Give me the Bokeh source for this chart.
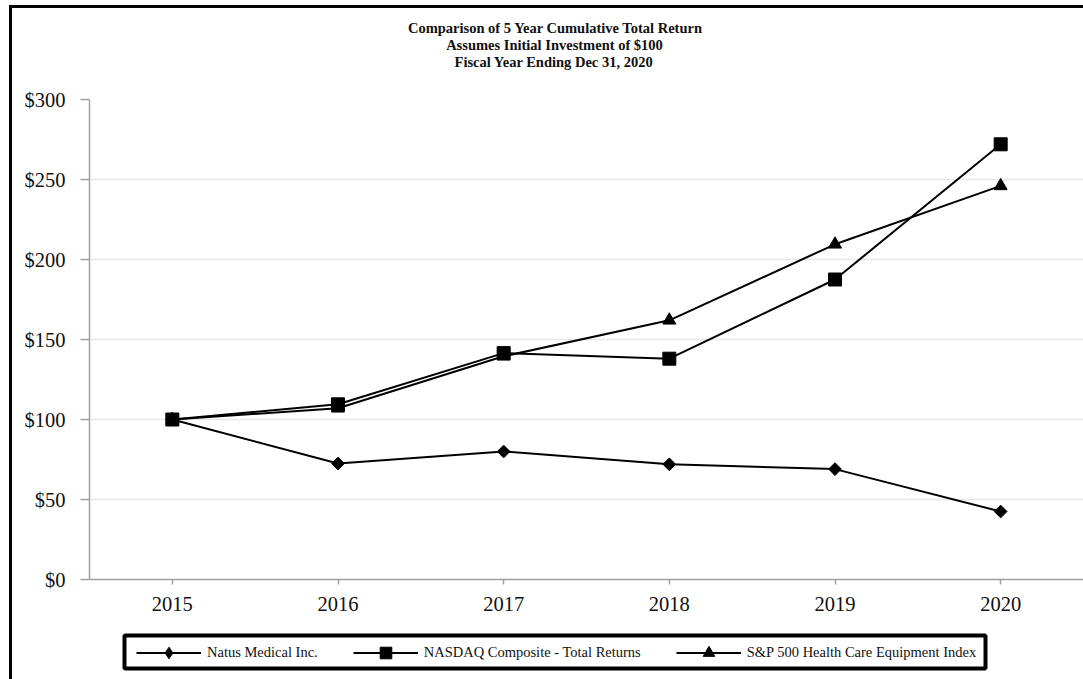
from bokeh.plotting import figure
from bokeh.layouts import column
from bokeh.models import (Range1d, FixedTicker, NumeralTickFormatter, Label, Legend, LegendItem,
                          BoxAnnotation)
from bokeh.embed import file_html
from bokeh.resources import INLINE

years = [2015, 2016, 2017, 2018, 2019, 2020]
natus = [100, 72.5, 80, 72, 69, 42.5]
nasdaq = [100, 109.5, 141.5, 138, 187.5, 272]
sp_hce = [100, 107, 139.5, 162, 209.5, 246]
y_ticks = [0, 50, 100, 150, 200, 250, 300]
title_lines = ["Comparison of 5 Year Cumulative Total Return",
               "Assumes Initial Investment of $100",
               "Fiscal Year Ending Dec 31, 2020"]
series_names = ["Natus Medical Inc.", "NASDAQ Composite - Total Returns",
                "S&P 500 Health Care Equipment Index"]

SERIF = "Liberation Serif"
W = 1071
BL = 77  # common left border so frames align (frame spans page x 89..1083)

# ---- title strip (data units = page pixels) ----
tf = figure(width=W, height=72, output_backend="svg", toolbar_location=None,
            x_range=Range1d(89, 1083), y_range=Range1d(80, 8),
            x_axis_type=None, y_axis_type=None,
            min_border_left=BL, min_border_right=0, min_border_top=0, min_border_bottom=0)
tf.outline_line_color = None
tf.grid.visible = False
for txt, xc, yc in zip(title_lines, [555, 554, 553.5], [27.5, 44.5, 61.5]):
    tf.add_layout(Label(x=xc, y=yc, text=txt, text_font=SERIF, text_font_style="bold",
                        text_font_size="14.5px", text_align="center", text_baseline="middle",
                        text_color="#111111"))

# ---- main chart ----
p = figure(width=W, height=545, output_backend="svg", toolbar_location=None,
           x_range=Range1d(2014.5, 2020.5), y_range=Range1d(0, 300),
           min_border_left=BL, min_border_right=0, min_border_top=19, min_border_bottom=46)
p.outline_line_color = None

p.xaxis.ticker = FixedTicker(ticks=years)
p.yaxis.ticker = FixedTicker(ticks=y_ticks)
p.yaxis.formatter = NumeralTickFormatter(format="$0")
for ax in (p.xaxis[0], p.yaxis[0]):
    ax.axis_line_color = "#a0a0a0"
    ax.axis_line_width = 1.5
    ax.major_tick_line_color = "#a0a0a0"
    ax.major_tick_line_width = 1.5
    ax.minor_tick_line_color = None
    ax.major_tick_in = 0
    ax.major_label_text_font = SERIF
    ax.major_label_text_font_size = "20.5px"
    ax.major_label_text_color = "#111111"
p.yaxis.major_tick_out = 9
p.yaxis.major_label_standoff = 15
p.xaxis.major_tick_out = 5
p.xaxis.major_label_standoff = 12

p.xgrid.grid_line_color = None
p.ygrid.grid_line_color = "#e8e8e8"
p.ygrid.grid_line_width = 1.5

p.line(years, natus, line_color="black", line_width=2)
p.scatter(years, natus, marker="square", angle=0.785398, size=9, color="black")
p.line(years, nasdaq, line_color="black", line_width=2)
p.scatter(years, nasdaq, marker="square", size=13, color="black")
p.line(years, sp_hce, line_color="black", line_width=2)
p.scatter(years, sp_hce, marker="triangle", size=13, color="black")

# ---- legend strip (data units = page pixels) ----
lf = figure(width=W, height=54, output_backend="svg", toolbar_location=None,
            x_range=Range1d(89, 1083), y_range=Range1d(679, 625),
            x_axis_type=None, y_axis_type=None,
            min_border_left=BL, min_border_right=0, min_border_top=0, min_border_bottom=0)
lf.grid.visible = False
lf.outline_line_color = None
lf.add_layout(BoxAnnotation(left=124, right=985, top=635, bottom=668,
                            fill_alpha=0, line_color="black", line_alpha=1, line_width=4))
markers = ["diamond", "square", "triangle"]
items = []
for name, mk in zip(series_names, markers):
    lr = lf.line([0, 1], [0, 1], line_color="black", line_width=2)
    sr = lf.scatter([0], [0], marker=mk, size=12, color="black")
    items.append(LegendItem(label=name, renderers=[lr, sr]))
legend = Legend(items=items, orientation="horizontal", location=(47, 12))
legend.label_text_font = SERIF
legend.label_text_font_size = "14.5px"
legend.label_text_color = "#111111"
legend.border_line_color = None
legend.background_fill_alpha = 0
legend.glyph_width = 65
legend.glyph_height = 29
legend.label_height = 29
legend.label_standoff = 6
legend.spacing = 35
legend.padding = 0
legend.margin = 0
lf.add_layout(legend, "center")

col = column(tf, p, lf, spacing=0)
col.styles = {"margin-left": "9px", "margin-top": "5px",
              "border-left": "3px solid black", "border-top": "3px solid black"}

open("out.html", "w").write(file_html(col, INLINE))
